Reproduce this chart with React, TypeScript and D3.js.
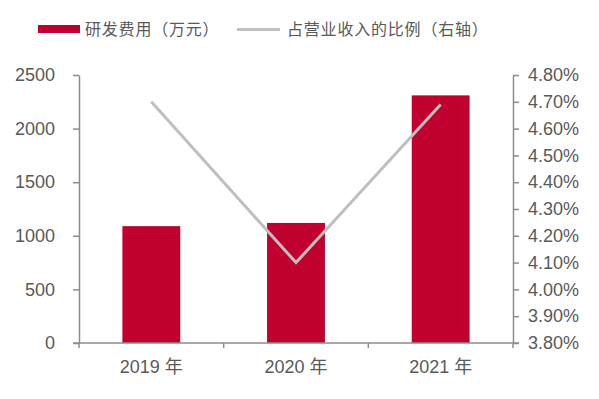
import React, {useRef, useEffect} from "react";
import * as d3 from "d3";

const years = ["2019 年", "2020 年", "2021 年"];
const rdExpense = [1090, 1120, 2310];
const revenueRatio = [4.70, 4.10, 4.69];
const leftTicks = [0, 500, 1000, 1500, 2000, 2500];
const rightTicks = [3.8, 3.9, 4.0, 4.1, 4.2, 4.3, 4.4, 4.5, 4.6, 4.7, 4.8];
const legendLabels = ["研发费用（万元）", "占营业收入的比例（右轴）"];

const barColor = "#C0002F";
const lineColor = "#BFBFBF";
const axisColor = "#8C8C8C";
const textColor = "#595959";

export default function App() {

	const ref = useRef(null);

	const layout = {"width": 599,
					"height": 399,
					"left": 79,
					"right": 513,
					"top": 75,
					"bottom": 343};

	useEffect(() => {

		const svg = d3.select(ref.current);
		svg.selectAll("*").remove();

		const xScale = d3.scaleBand()
						.domain(years)
						.range([layout.left, layout.right])
						.paddingInner(0.6)
						.paddingOuter(0.3);

		const xEdges = d3.scaleLinear()
						.domain([0, years.length])
						.range([layout.left, layout.right]);

		const yLeft = d3.scaleLinear()
						.domain([0, 2500])
						.range([layout.bottom, layout.top]);

		const yRight = d3.scaleLinear()
						.domain([3.8, 4.8])
						.range([layout.bottom, layout.top]);

		const font = "'Liberation Sans', Arial, 'Noto Sans CJK SC', sans-serif";
		const cjkFont = "'Noto Sans CJK SC', sans-serif";

		// bars
		svg.append("g")
			.selectAll("rect")
			.data(rdExpense)
			.join("rect")
			.attr("x", (d, i) => xScale(years[i]))
			.attr("y", d => yLeft(d))
			.attr("width", xScale.bandwidth())
			.attr("height", d => yLeft(0) - yLeft(d))
			.attr("fill", barColor);

		// line
		const line = d3.line()
						.x((d, i) => xScale(years[i]) + xScale.bandwidth() / 2)
						.y(d => yRight(d));

		svg.append("path")
			.datum(revenueRatio)
			.attr("d", line)
			.attr("fill", "none")
			.attr("stroke", lineColor)
			.attr("stroke-width", 3);

		// left axis
		const leftAxis = svg.append("g")
							.attr("transform", `translate(${layout.left}, 0)`)
							.call(d3.axisLeft(yLeft).tickValues(leftTicks).tickSize(6).tickSizeOuter(0).tickPadding(18)
									.tickFormat(d => `${d}`));

		// right axis
		const rightAxis = svg.append("g")
							.attr("transform", `translate(${layout.right}, 0)`)
							.call(d3.axisRight(yRight).tickValues(rightTicks).tickSize(6).tickSizeOuter(0).tickPadding(9)
									.tickFormat(d => `${d.toFixed(2)}%`));

		// bottom axis
		const xAxis = svg.append("g")
						.attr("transform", `translate(0, ${layout.bottom})`);

		xAxis.append("line")
			.attr("x1", layout.left - 6)
			.attr("x2", layout.right + 6)
			.attr("y1", 0)
			.attr("y2", 0)
			.attr("stroke", axisColor)
			.attr("stroke-width", 1.5);

		xAxis.selectAll(".edge")
			.data(d3.range(years.length + 1))
			.join("line")
			.attr("class", "edge")
			.attr("x1", d => xEdges(d))
			.attr("x2", d => xEdges(d))
			.attr("y1", 0)
			.attr("y2", 5)
			.attr("stroke", axisColor)
			.attr("stroke-width", 1.5);

		xAxis.selectAll(".label")
			.data(years)
			.join("text")
			.attr("class", "label")
			.attr("x", d => xScale(d) + xScale.bandwidth() / 2)
			.attr("y", 30)
			.attr("text-anchor", "middle")
			.attr("font-size", 18)
			.attr("font-family", font)
			.attr("fill", textColor)
			.text(d => d);

		for (let ax of [leftAxis, rightAxis]) {
			ax.select(".domain").attr("stroke", axisColor).attr("stroke-width", 1.5);
			ax.selectAll(".tick line").attr("stroke", axisColor).attr("stroke-width", 1.5);
			ax.selectAll(".tick text")
				.attr("font-size", 18)
				.attr("font-family", font)
				.attr("fill", textColor);
		}

		// legend
		const legend = svg.append("g");

		legend.append("rect")
			.attr("x", 38)
			.attr("y", 25)
			.attr("width", 42)
			.attr("height", 8)
			.attr("fill", barColor);

		legend.append("text")
			.attr("x", 85)
			.attr("y", 35)
			.attr("font-size", 16)
			.attr("letter-spacing", 0.8)
			.attr("font-family", cjkFont)
			.attr("fill", textColor)
			.text(legendLabels[0]);

		legend.append("line")
			.attr("x1", 237)
			.attr("x2", 280)
			.attr("y1", 29.5)
			.attr("y2", 29.5)
			.attr("stroke", lineColor)
			.attr("stroke-width", 3);

		legend.append("text")
			.attr("x", 287)
			.attr("y", 35)
			.attr("font-size", 16)
			.attr("letter-spacing", 0.8)
			.attr("font-family", cjkFont)
			.attr("fill", textColor)
			.text(legendLabels[1]);

	}, []);

	return (
		<svg ref={ref} width={layout.width} height={layout.height}
			 style={{position: "absolute", left: 0, top: 0, background: "white"}} />
	);
}
